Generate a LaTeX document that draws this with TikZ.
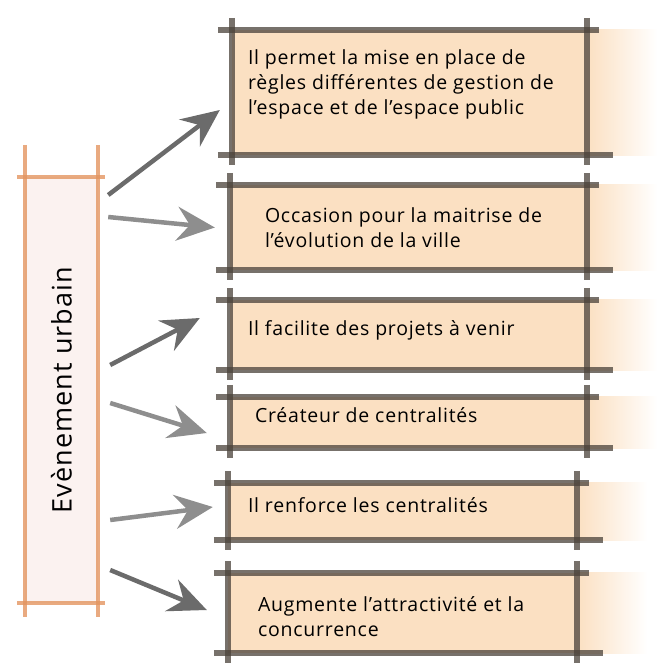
\documentclass[tikz,border=0pt]{standalone}
\usepackage{fontspec}
\setmainfont{Open Sans}[LetterSpace=4]
\usetikzlibrary{arrows.meta}

\definecolor{glow}{HTML}{FBE0C2}
\definecolor{evfill}{HTML}{FBF2F0}
\definecolor{evline}{HTML}{E39560}
\definecolor{frameline}{HTML}{4A423A}
\definecolor{arrowdark}{HTML}{6B6B6B}
\definecolor{arrowlight}{HTML}{8E8E8E}

\tikzset{
  evbox/.style={fill=evfill, minimum width=73pt, minimum height=426pt, inner sep=0pt},
  itembox/.style={fill=glow, inner sep=0pt},
  itemtext/.style={anchor=west, align=left, inner sep=0pt, font=\fontsize{19.5}{25}\selectfont},
  frame/.style={draw=frameline, line width=6pt, opacity=0.75},
  evframe/.style={draw=evline, line width=4.5pt, opacity=0.8},
  darrow/.style={draw=arrowdark, line width=4.5pt, -{Stealth[length=38pt, width=34pt, inset=13pt]}},
  larrow/.style={draw=arrowlight, line width=4.5pt, -{Stealth[length=38pt, width=34pt, inset=13pt]}}
}

% frame of a box, sketch style: lines run past the corners
\newcommand{\sketchframe}[1]{%
  \shade[left color=glow, right color=white] (#1.north east) rectangle ([xshift=70pt]#1.south east);
  \draw[frame] ([xshift=-14pt]#1.north west) -- ([xshift=12pt]#1.north east);
  \draw[frame] ([xshift=-14pt]#1.south west) -- ([xshift=26pt]#1.south east);
  \draw[frame] ([yshift=12pt]#1.north west) -- ([yshift=-10pt]#1.south west);
  \draw[frame] ([yshift=12pt]#1.north east) -- ([yshift=-10pt]#1.south east);
}

\begin{document}
\begin{tikzpicture}[x=1pt, y=-1pt]
  \useasboundingbox (0,0) rectangle (663,662);

  % Left box
  \node[evbox] (ev) at (61.5,390) {\rotatebox{90}{\fontsize{27}{30}\selectfont Evènement urbain}};
  \draw[evframe] ([yshift=32pt]ev.north west) -- ([yshift=-14pt]ev.south west);
  \draw[evframe] ([yshift=32pt]ev.north east) -- ([yshift=-14pt]ev.south east);
  \draw[evframe] ([xshift=-8pt]ev.north west) -- ([xshift=7pt]ev.north east);
  \draw[evframe] ([xshift=-8pt]ev.south west) -- ([xshift=7pt]ev.south east);

  % Right boxes
  \node[itembox, minimum width=355pt, minimum height=125pt] (b1) at (409.5,92.5) {};
  \node[itembox, minimum width=357pt, minimum height=85pt] (b2) at (408.5,227.5) {};
  \node[itembox, minimum width=357pt, minimum height=70pt] (b3) at (408.5,335) {};
  \node[itembox, minimum width=357pt, minimum height=51pt] (b4) at (408.5,422.5) {};
  \node[itembox, minimum width=349pt, minimum height=57pt] (b5) at (402.5,511.5) {};
  \node[itembox, minimum width=349pt, minimum height=80pt] (b6) at (402.5,613) {};

  \sketchframe{b1}
  \sketchframe{b2}
  \sketchframe{b3}
  \sketchframe{b4}
  \sketchframe{b5}
  \sketchframe{b6}

  % Box texts
  \node[itemtext] (t1) at ([shift={(16pt,8.5pt)}]b1.west) {Il permet la mise en place de\\règles différentes de gestion de\\l’espace et de l’espace public};
  \node[itemtext] (t2) at ([shift={(35pt,0pt)}]b2.west) {Occasion pour la maitrise de\\l’évolution de la ville};
  \node[itemtext] (t3) at ([shift={(18pt,5pt)}]b3.west) {Il facilite des projets à venir};
  \node[itemtext] (t4) at ([shift={(25pt,7.5pt)}]b4.west) {Créateur de centralités};
  \node[itemtext] (t5) at ([shift={(20pt,6.5pt)}]b5.west) {Il renforce les centralités};
  \node[itemtext] (t6) at ([shift={(30pt,-3.5pt)}]b6.west) {Augmente l’attractivité et la\\concurrence};

  % Arrows
  \draw[darrow] ([shift={(10pt,195pt)}]ev.east) -- ([shift={(-12pt,-17.5pt)}]b1.west);
  \draw[larrow] ([shift={(10pt,173pt)}]ev.east) -- ([shift={(-15pt,0pt)}]b2.west);
  \draw[darrow] ([shift={(12pt,25pt)}]ev.east) -- ([shift={(-30pt,17pt)}]b3.west);
  \draw[larrow] ([shift={(12pt,-13pt)}]ev.east) -- ([shift={(-23pt,-10.5pt)}]b4.west);
  \draw[larrow] ([shift={(12pt,-130pt)}]ev.east) -- ([shift={(-15pt,4.5pt)}]b5.west);
  \draw[darrow] ([shift={(12pt,-180pt)}]ev.east) -- ([shift={(-21pt,3pt)}]b6.west);
\end{tikzpicture}
\end{document}
